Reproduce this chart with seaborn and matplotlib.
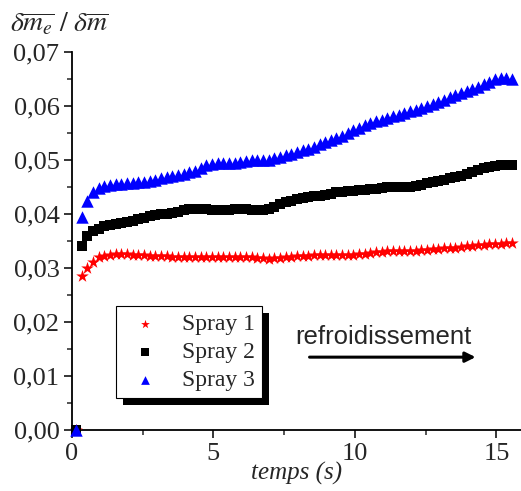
import numpy as np
import pandas as pd
import seaborn as sns
import matplotlib
matplotlib.use("Agg")
import matplotlib.pyplot as plt
from matplotlib.ticker import FuncFormatter, MultipleLocator
from matplotlib.patches import Rectangle

sns.set_style("ticks")
plt.rcParams['font.family'] = ['Liberation Serif', 'DejaVu Serif']
plt.rcParams['mathtext.fontset'] = 'stix'

# sampling times (s)
temps = np.round(np.arange(0.15, 15.6, 0.2), 2)

spray1 = [0.0, 0.0285, 0.0300, 0.0312, 0.0320, 0.0323, 0.0325, 0.0326, 0.0326, 0.0326,
          0.0325, 0.0325, 0.0324, 0.0323, 0.0322, 0.0322, 0.0322, 0.0321, 0.0321, 0.0321,
          0.0321, 0.0321, 0.0321, 0.0321, 0.0321, 0.0321, 0.0321, 0.0321, 0.0321, 0.0321,
          0.0320, 0.0320, 0.0319, 0.0318, 0.0317, 0.0318, 0.0319, 0.0320, 0.0321, 0.0322,
          0.0323, 0.0323, 0.0324, 0.0324, 0.0325, 0.0325, 0.0325, 0.0325, 0.0325, 0.0325,
          0.0326, 0.0327, 0.0328, 0.0329, 0.0330, 0.0331, 0.0331, 0.0331, 0.0331, 0.0331,
          0.0332, 0.0333, 0.0334, 0.0335, 0.0336, 0.0337, 0.0337, 0.0338, 0.0339, 0.0340,
          0.0341, 0.0342, 0.0343, 0.0344, 0.0345, 0.0345, 0.0346, 0.0346]

spray2 = [0.0, 0.0340, 0.0360, 0.0368, 0.0373, 0.0377, 0.0380, 0.0382, 0.0384, 0.0386,
          0.0388, 0.0390, 0.0393, 0.0396, 0.0398, 0.0400, 0.0401, 0.0402, 0.0404, 0.0407,
          0.0409, 0.0410, 0.0410, 0.0409, 0.0408, 0.0407, 0.0407, 0.0408, 0.0410, 0.0410,
          0.0409, 0.0408, 0.0408, 0.0408, 0.0409, 0.0413, 0.0418, 0.0422, 0.0425, 0.0427,
          0.0429, 0.0431, 0.0433, 0.0434, 0.0436, 0.0438, 0.0440, 0.0441, 0.0442, 0.0443,
          0.0444, 0.0445, 0.0446, 0.0447, 0.0449, 0.0450, 0.0450, 0.0451, 0.0451, 0.0451,
          0.0452, 0.0454, 0.0457, 0.0460, 0.0462, 0.0464, 0.0466, 0.0468, 0.0471, 0.0474,
          0.0478, 0.0482, 0.0485, 0.0487, 0.0489, 0.0490, 0.0491, 0.0491]

spray3 = [0.0, 0.0395, 0.0425, 0.0440, 0.0448, 0.0452, 0.0454, 0.0455, 0.0456, 0.0457,
          0.0458, 0.0459, 0.0460, 0.0462, 0.0464, 0.0466, 0.0468, 0.0470, 0.0472, 0.0474,
          0.0477, 0.0480, 0.0485, 0.0490, 0.0493, 0.0494, 0.0494, 0.0494, 0.0495, 0.0497,
          0.0499, 0.0500, 0.0500, 0.0500, 0.0501, 0.0503, 0.0506, 0.0509, 0.0512, 0.0515,
          0.0518, 0.0521, 0.0525, 0.0529, 0.0533, 0.0537, 0.0541, 0.0545, 0.0550, 0.0555,
          0.0560, 0.0564, 0.0568, 0.0572, 0.0575, 0.0578, 0.0581, 0.0584, 0.0587, 0.0590,
          0.0593, 0.0596, 0.0600, 0.0604, 0.0608, 0.0612, 0.0616, 0.0620, 0.0624, 0.0628,
          0.0632, 0.0636, 0.0640, 0.0645, 0.0650, 0.0652, 0.0652, 0.0650]

labels = ["Spray 1", "Spray 2", "Spray 3"]
colors = {"Spray 1": "red", "Spray 2": "black", "Spray 3": "blue"}
marks = {"Spray 1": "*", "Spray 2": "s", "Spray 3": "^"}

df = pd.DataFrame({"temps": np.tile(temps, 3),
                   "val": spray1 + spray2 + spray3,
                   "serie": np.repeat(labels, len(temps))})

fig = plt.figure(figsize=(5.21, 4.91), dpi=100)
ax = fig.add_axes([0.138, 0.124, 0.862, 0.770])

sizes = {"Spray 1": 90, "Spray 2": 55, "Spray 3": 80}
for lab in labels:
    sub = df[df.serie == lab]
    sns.scatterplot(data=sub, x="temps", y="val", color=colors[lab], marker=marks[lab],
                    s=sizes[lab], linewidth=0, ax=ax, label=lab, zorder=3, clip_on=False)

ax.set_xlim(0, 15.87)
ax.set_ylim(0, 0.07)
ax.xaxis.set_major_locator(MultipleLocator(5))
ax.xaxis.set_minor_locator(MultipleLocator(2.5))
ax.yaxis.set_major_locator(MultipleLocator(0.01))
ax.yaxis.set_minor_locator(MultipleLocator(0.005))
ax.yaxis.set_major_formatter(FuncFormatter(lambda v, p: f"{v:.2f}".replace(".", ",")))
ax.xaxis.set_major_formatter(FuncFormatter(lambda v, p: f"{v:.0f}"))
ax.tick_params(axis="both", which="major", direction="out", length=6, width=1.1,
               labelsize=19, color="black", pad=3)
ax.tick_params(axis="both", which="minor", direction="out", length=3.5, width=1.1)
sns.despine(ax=ax)
for s in ["left", "bottom"]:
    ax.spines[s].set_linewidth(1.3)
    ax.spines[s].set_color("black")

ax.set_xlabel("temps (s)", fontsize=18, style="italic", labelpad=-2)
ax.set_ylabel("")
fig.text(0.02, 0.935, r"$\delta\overline{m_e}\ /\ \delta\overline{m}$", fontsize=20)

leg = ax.legend(loc="upper left", bbox_to_anchor=(0.098, 0.327), frameon=True,
                fancybox=False, shadow=False,
                edgecolor="black", framealpha=1, fontsize=17, markerscale=0.7,
                handletextpad=0.6, borderpad=0.3, labelspacing=0.28, borderaxespad=0,
                handlelength=1.9)
leg.get_frame().set_linewidth(0.8)
leg.set_zorder(6)

ax.text(0.498, 0.215, "refroidissement", transform=ax.transAxes, fontsize=18.5,
        family="Liberation Sans", ha="left", va="bottom")
ax.annotate("", xy=(0.905, 0.193), xytext=(0.523, 0.193), xycoords="axes fraction",
            arrowprops=dict(arrowstyle="-|>", color="black", lw=2.2, mutation_scale=15))

# offset black shadow behind the legend box
fig.canvas.draw()
bb = leg.get_window_extent()
shadow = Rectangle((bb.x0 + 7, bb.y0 - 7), bb.width, bb.height, transform=None,
                   facecolor="black", edgecolor="none", zorder=5)
ax.add_artist(shadow)

fig.savefig("out.png", dpi=100)
